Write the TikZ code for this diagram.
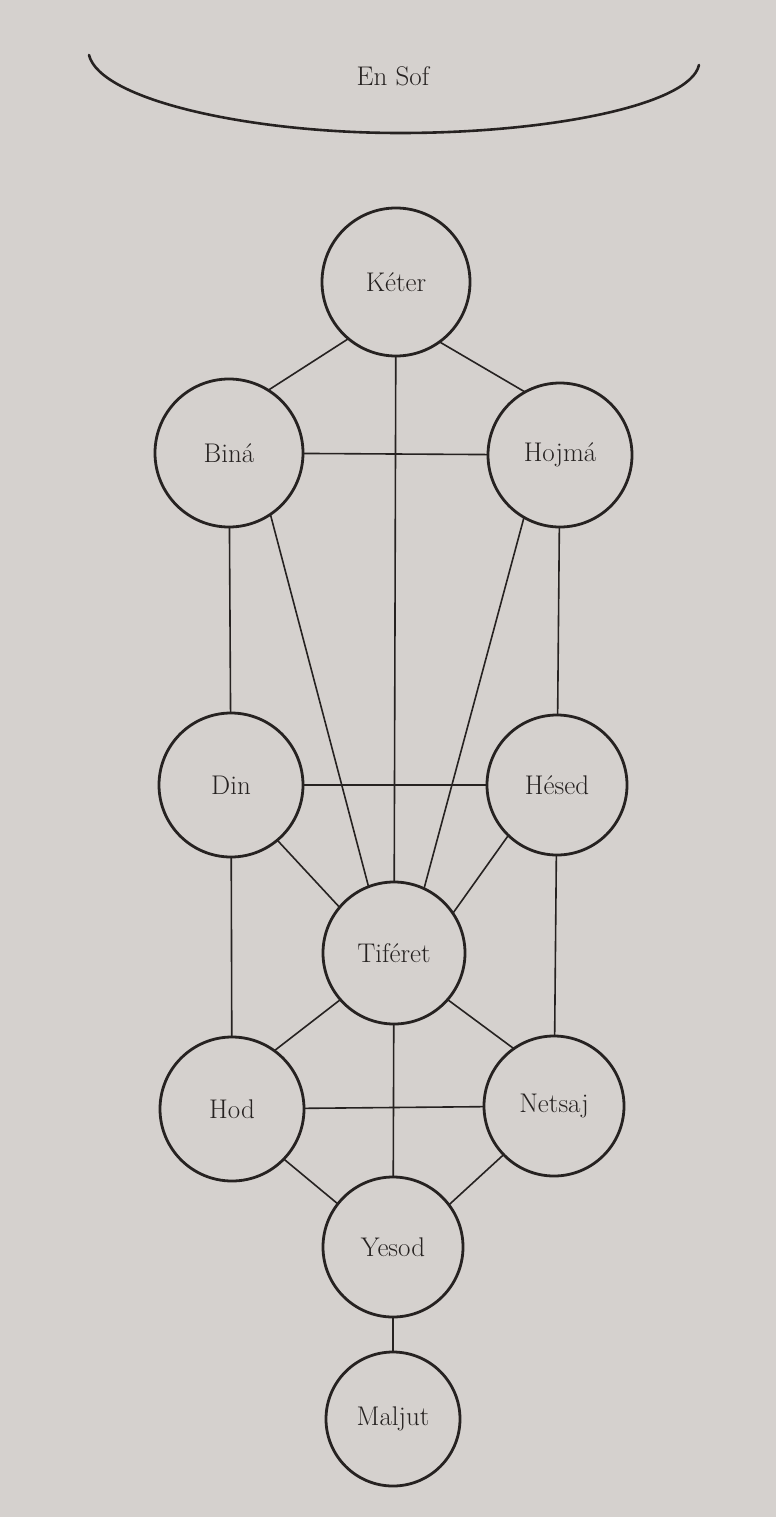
\documentclass[tikz,border=0pt]{standalone}
\usepackage{fontspec}
\definecolor{paper}{RGB}{213,209,206}
\definecolor{ink}{RGB}{38,34,33}
\tikzset{
  sef/.style={circle, draw=ink, line width=2.8pt, minimum size=#1, inner sep=0pt, outer sep=0pt,
              text=ink, font=\fontsize{27}{31}\selectfont},
  conn/.style={draw=ink, line width=1.6pt},
  lbl/.style={text=ink, inner sep=0pt, font=\fontsize{27}{31}\selectfont}
}
\begin{document}
\begin{tikzpicture}[x=1pt,y=-1pt]
\useasboundingbox (0,0) rectangle (776,1517);
\fill[paper] (0,0) rectangle (776,1517);

% En Sof
\draw[ink, line width=2.6pt, line cap=round] (89,55) .. controls (100,100) and (250,133) .. (400,133)
      .. controls (550,133) and (690,105) .. (699,65);
\node[lbl] (ensof) at (393,76) {En Sof};

% Sefirot
\node[sef=148pt] (Keter)   at (396,282)  {Kéter};
\node[sef=148pt] (Bina)    at (229,453)  {Biná};
\node[sef=144pt] (Hojma)   at (560,455)  {Hojmá};
\node[sef=144pt] (Din)     at (231,785)  {Din};
\node[sef=140pt] (Hesed)   at (557,785)  {Hésed};
\node[sef=142pt] (Tiferet) at (394,953)  {Tiféret};
\node[sef=144pt] (Hod)     at (232,1109) {Hod};
\node[sef=140pt] (Netsaj)  at (554,1106) {Netsaj};
\node[sef=140pt] (Yesod)   at (393,1247) {Yesod};
\node[sef=134pt] (Maljut)  at (393,1419) {Maljut};

% Paths
\draw[conn] (Keter.230) -- (Bina.58.6);
\draw[conn] (Keter.306) -- (Hojma.119);
\draw[conn] (Keter) -- (Tiferet);
\draw[conn] (Bina) -- (Hojma);
\draw[conn] (Bina) -- (Din);
\draw[conn] (Bina.-56.5) -- (Tiferet.111.7);
\draw[conn] (Hojma) -- (Hesed);
\draw[conn] (Hojma.-120) -- (Tiferet.65);
\draw[conn] (Din) -- (Hesed);
\draw[conn] (Din.-50.5) -- (Tiferet.140);
\draw[conn] (Hesed.226) -- (Tiferet.34);
\draw[conn] (Din) -- (Hod);
\draw[conn] (Hesed) -- (Netsaj);
\draw[conn] (Tiferet.221.6) -- (Hod.54);
\draw[conn] (Tiferet.-41) -- (Netsaj.125);
\draw[conn] (Tiferet) -- (Yesod);
\draw[conn] (Hod) -- (Netsaj);
\draw[conn] (Hod.-44) -- (Yesod.142);
\draw[conn] (Netsaj.224) -- (Yesod.37);
\draw[conn] (Yesod) -- (Maljut);
\end{tikzpicture}
\end{document}
